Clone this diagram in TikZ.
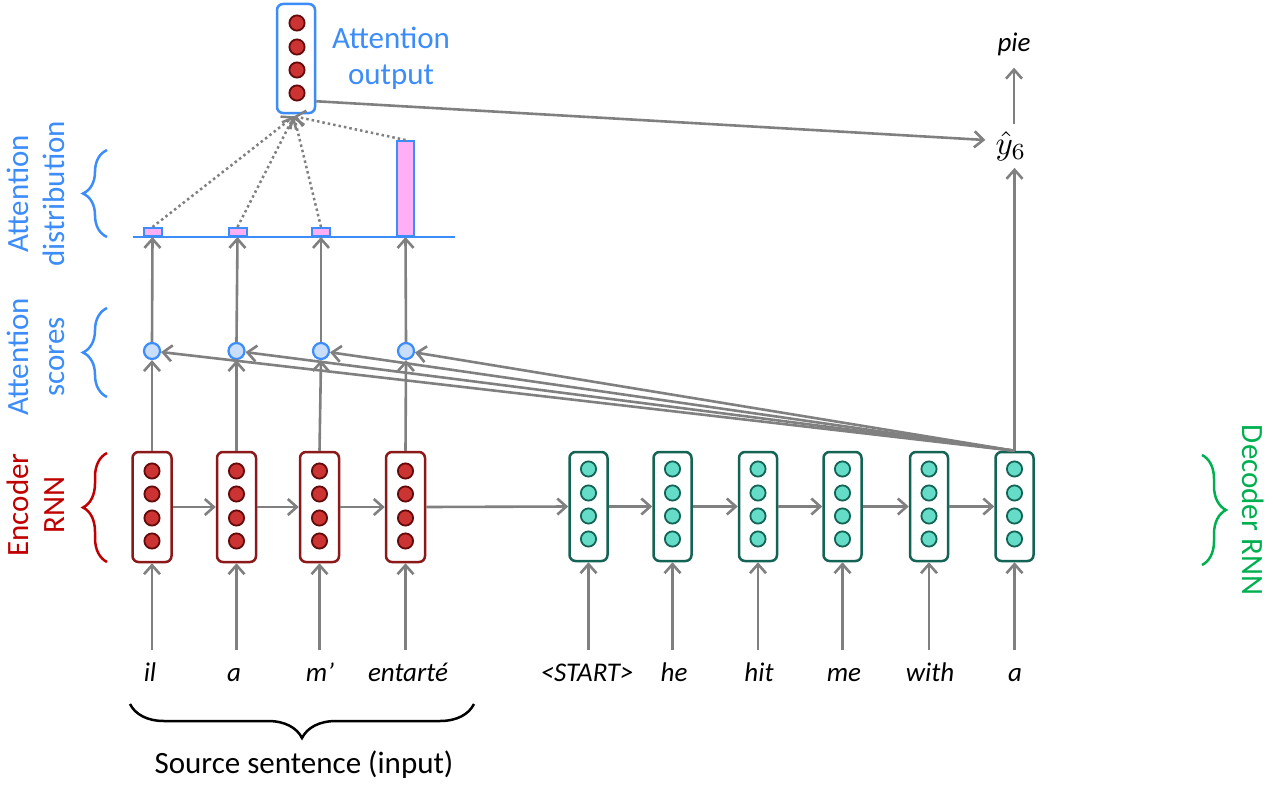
\documentclass[tikz,border=0pt]{standalone}
\usepackage{fontspec}
\setmainfont{Carlito}
\usetikzlibrary{arrows.meta,decorations.pathreplacing,calc}
\definecolor{arrgray}{RGB}{128,128,128}
\definecolor{attblue}{RGB}{60,140,250}
\definecolor{scorefill}{RGB}{200,222,252}
\definecolor{barpink}{RGB}{255,175,245}
\definecolor{encred}{RGB}{140,25,25}
\definecolor{encfill}{RGB}{204,51,51}
\definecolor{encdark}{RGB}{100,10,10}
\definecolor{decteal}{RGB}{20,100,85}
\definecolor{decfill}{RGB}{100,220,200}
\definecolor{labred}{RGB}{192,0,0}
\definecolor{labgreen}{RGB}{0,176,80}
\begin{document}
\begin{tikzpicture}[x=1pt,y=-1pt,
  arr/.style={draw=arrgray, line width=2.6pt, -{Straight Barb[length=9pt,width=16pt]}},
  dotarr/.style={arr, line width=2.5pt, dash pattern=on 2.5pt off 3pt},
  encbox/.style={draw=encred, line width=2.5pt, rounded corners=6pt, minimum width=39pt, minimum height=110pt, inner sep=0pt, fill=white},
  decbox/.style={draw=decteal, line width=2.5pt, rounded corners=6pt, minimum width=38pt, minimum height=109pt, inner sep=0pt, fill=white},
  aobox/.style={draw=attblue, line width=2.5pt, rounded corners=6pt, minimum width=38pt, minimum height=109pt, inner sep=0pt, fill=white},
  encdot/.style={draw=encdark, fill=encfill, line width=1.8pt},
  decdot/.style={draw=decteal, fill=decfill, line width=1.8pt},
  score/.style={circle, draw=attblue, fill=scorefill, line width=2.2pt, minimum size=16pt, inner sep=0pt},
  bar/.style={rectangle, draw=attblue, fill=barpink, line width=2pt, anchor=south, inner sep=0pt, minimum width=18pt},
  word/.style={font=\fontsize{27}{32}\selectfont\itshape, inner xsep=0pt, inner ysep=12pt, text height=19pt, text depth=6pt},
  biglab/.style={font=\fontsize{31}{36}\selectfont, align=center},
  brace/.style={decorate, decoration={brace, amplitude=24pt, aspect=0.5}, line width=2.5pt}
]
\useasboundingbox (0,0) rectangle (1273,784);

% attention distribution baseline
\draw[attblue, line width=2.5pt] (133,237) -- (455,237);

% encoder boxes
\foreach \n/\x in {1/152,2/236.5,3/319.5,4/405.5}{
  \node[encbox] (e\n) at (\x,507) {};
  \foreach \y in {471,494,518,541} \filldraw[encdot] (\x,\y) circle[radius=7.6pt];
}
% decoder boxes
\foreach \n/\x in {1/588.5,2/672.5,3/758,4/842.5,5/929,6/1014.5}{
  \node[decbox] (d\n) at (\x,506.5) {};
  \foreach \y in {469,493,516,539} \filldraw[decdot] (\x,\y) circle[radius=7.6pt];
}

% attention output
\node[aobox] (ao) at (296,58.5) {};
\foreach \y in {23,47,70,93} \filldraw[encdot] (297,\y) circle[radius=7.6pt];
\node[biglab, text=attblue] (aolab) at (391,58) {Attention\\output};

% scores
\node[score] (s1) at (152,351) {};
\node[score] (s2) at (236.5,351) {};
\node[score] (s3) at (321,351) {};
\node[score] (s4) at (406,351) {};

% bars
\node[bar, minimum height=8pt] (b1) at (152.5,237) {};
\node[bar, minimum height=8pt] (b2) at (237.5,237) {};
\node[bar, minimum height=8pt] (b3) at (321,237) {};
\node[bar, minimum width=17pt, minimum height=95pt] (b4) at (405.5,237) {};

% words
\node[word] (w1) at (150,675) {il};
\node[word] (w2) at (234,675) {a};
\node[word] (w3) at (320,675) {m’};
\node[word] (w4) at (408,675) {entarté};
\node[word] (w5) at (587,675) {<START>};
\node[word] (w6) at (674,675) {he};
\node[word] (w7) at (759,675) {hit};
\node[word] (w8) at (844,675) {me};
\node[word] (w9) at (930,675) {with};
\node[word] (w10) at (1015,675) {a};

% output side
\node[inner xsep=10pt, inner ysep=7pt] (yhat) at (1011,146) {\scalebox{3.3}{$\hat{y}_6$}};
\node[word, inner ysep=10pt] (pie) at (1014,45) {pie};

% input arrows
\foreach \i in {1,...,4} \draw[arr] (e\i.south |- w\i.north) -- (e\i.south);
\foreach \i/\j in {1/5,2/6,3/7,4/8,5/9,6/10} \draw[arr] (d\i.south |- w\j.north) -- (d\i.south);

% horizontal recurrences
\draw[arr] (e1.east) -- (e2.west);
\draw[arr] (e2.east) -- (e3.west);
\draw[arr] (e3.east) -- (e4.west);
\draw[arr] (e4.east) -- (d1.west);
\draw[arr] (d1.east) -- (d2.west);
\draw[arr] (d2.east) -- (d3.west);
\draw[arr] (d3.east) -- (d4.west);
\draw[arr] (d4.east) -- (d5.west);
\draw[arr] (d5.east) -- (d6.west);

% encoder -> scores -> distribution
\foreach \i in {1,...,4}{
  \draw[arr] (e\i.north) -- (s\i.south);
  \draw[arr] (s\i.north) -- (b\i.south);
  \draw[arr] (d6.north) -- (s\i);
}

% distribution -> attention output
\foreach \i in {1,...,4} \draw[dotarr] (b\i.north) -- ([xshift=-2pt,yshift=-2pt]ao.south);

% attention output -> yhat, decoder -> yhat -> pie
\draw[arr] ([yshift=13pt]ao.south east) -- ([yshift=6pt]yhat.west);
\draw[arr] (d6.north) -- (yhat.south -| d6.north);
\draw[arr] (yhat.north -| pie.south) -- (pie.south);

% side labels and braces
\node[biglab, text=attblue, rotate=90] (ladist) at (36,194) {Attention\\distribution};
\node[biglab, text=attblue, rotate=90] (lascore) at (36,357) {Attention\\scores};
\node[biglab, text=labred, rotate=90] (laenc) at (36,505) {Encoder\\RNN};
\node[biglab, text=labgreen, rotate=-90] (ladec) at (1253,510) {Decoder RNN};
\node[biglab] (lasrc) at (304,765) {Source sentence (input)};

\draw[brace, attblue] (107,237) -- (107,150);
\draw[brace, attblue] (107,397) -- (107,308);
\draw[brace, labred] (107,562) -- (107,453);
\draw[brace, labgreen] (1202,455) -- (1202,565);
\draw[brace, black, decoration={amplitude=34pt}] (474,704) -- (130,704);
\end{tikzpicture}
\end{document}
